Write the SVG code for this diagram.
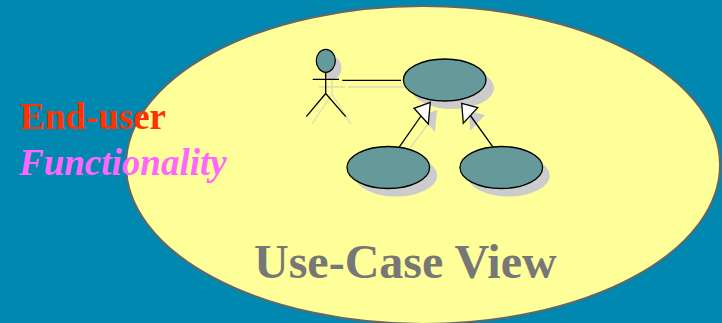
<svg xmlns="http://www.w3.org/2000/svg" width="722" height="323" viewBox="0 0 722 323">
<style>
.uc{fill:#669999;stroke:#000;stroke-width:1.3}
.sh{fill:#cccccc;stroke:none}
.shl{fill:none;stroke:#dcdcb4;stroke-width:1.3}
.ln{fill:none;stroke:#000;stroke-width:1.3}
.tri{fill:#fff;stroke:#000;stroke-width:1.3}
text{font-family:"Liberation Serif","Times New Roman",serif}
</style>
<rect width="722" height="323" fill="#0088b0"/>
<g id="view">
<ellipse cx="423" cy="165" rx="297" ry="159" fill="#ffff99" stroke="#666666" stroke-width="2"/>
<text x="254" y="278" font-size="48" font-weight="bold" fill="#777777">Use-Case View</text>
</g>
<g id="connector-shadows">
<path class="shl" d="M319 87H345M348 87H405M410 148L437 112"/>
<polygon class="sh" points="437,110 421,116 435,132"/>
<polygon class="sh" points="469,111 485,115 470,131"/>
</g>
<g id="actor">
<path class="shl" d="M332 72V94M332 94L312 124M332 94L351 124"/>
<ellipse class="sh" cx="332" cy="68" rx="9.5" ry="11.5"/>
<ellipse class="uc" cx="325.8" cy="60.8" rx="9.5" ry="11.5"/>
<path class="ln" d="M325.7 72.3V93.5M312.7 79.3H339M325.7 93.5L306.3 116.7M325.7 93.5L345.7 116.7"/>
</g>
<g id="usecase-top">
<ellipse class="sh" cx="452.7" cy="88" rx="41.3" ry="21"/>
<ellipse class="uc" cx="444.7" cy="80" rx="41.3" ry="21"/>
</g>
<g id="usecase-left">
<ellipse class="sh" cx="396" cy="175.5" rx="41.3" ry="21"/>
<ellipse class="uc" cx="388.3" cy="167.5" rx="41.3" ry="21"/>
</g>
<g id="usecase-right">
<ellipse class="sh" cx="508.5" cy="175.5" rx="41.3" ry="21"/>
<ellipse class="uc" cx="501.3" cy="167.5" rx="41.3" ry="21"/>
</g>
<g id="connectors">
<path class="ln" d="M342.3 80.3H401"/>
<path class="ln" d="M399 147.3L421 116"/>
<polygon class="tri" points="430.3,102.3 414,108.3 428.3,124"/>
<path class="ln" d="M492.7 146.7L470 115"/>
<polygon class="tri" points="461.7,103.3 477.7,107.7 463.3,123.3"/>
</g>
<g id="labels">
<text x="20" y="129" font-size="37" font-weight="bold" fill="#ff3300">End-user</text>
<text x="19" y="175" font-size="37" font-weight="bold" font-style="italic" fill="#ff66ff">Functionality</text>
</g>
</svg>
